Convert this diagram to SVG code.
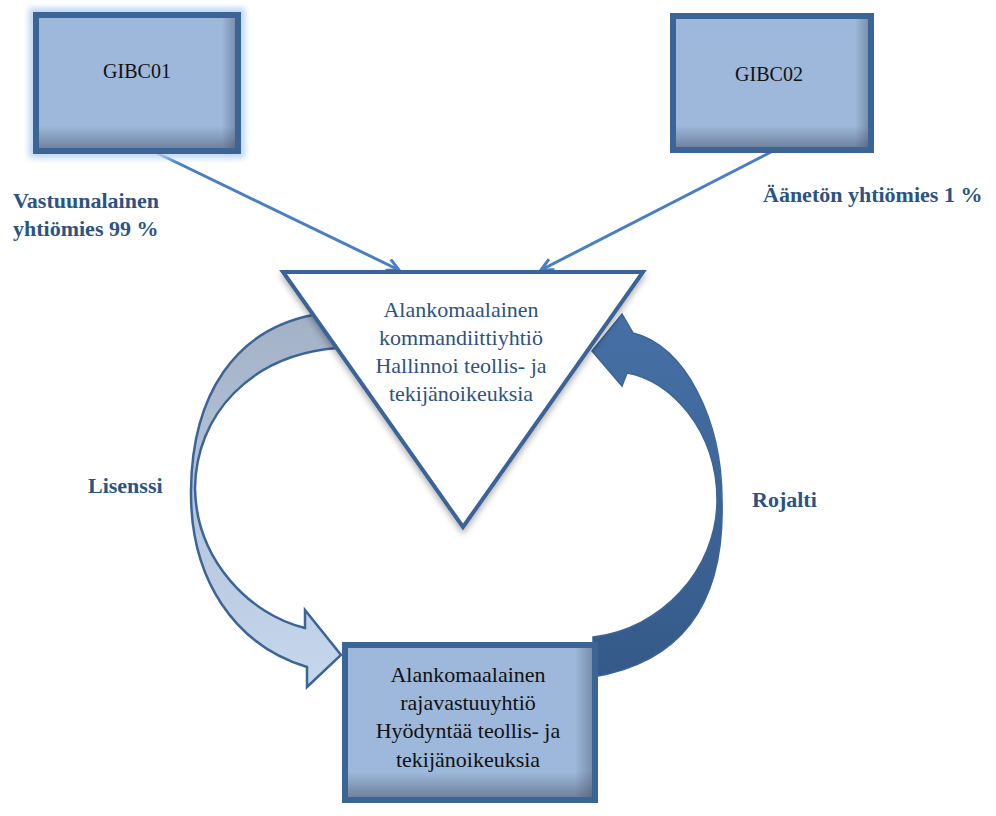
<svg xmlns="http://www.w3.org/2000/svg" width="996" height="816" viewBox="0 0 996 816">
<style>
.box{fill:#9db8da}
.border{fill:none;stroke:#3b6497;stroke-width:6}
.shB{fill:url(#shadeB)}
.shR{fill:url(#shadeR)}
.conn{fill:none;stroke:#4a7ec4;stroke-width:3}
text{font-family:"Liberation Serif","DejaVu Serif","Times New Roman",serif}
.lbl{font-weight:bold;font-size:22px;fill:#2b5384}
.tri{font-size:22px;fill:#2e5283;text-anchor:middle}
.btxt{font-size:22px;fill:#111;text-anchor:middle}
.gtxt{font-size:20px;fill:#111;text-anchor:middle}
</style>
<defs>
<linearGradient id="shadeB" x1="0" y1="0" x2="0" y2="1">
<stop offset="0" stop-color="#404a60" stop-opacity="0"/>
<stop offset="0.82" stop-color="#404a60" stop-opacity="0"/>
<stop offset="1" stop-color="#404a60" stop-opacity="0.55"/>
</linearGradient>
<linearGradient id="shadeR" x1="0" y1="0" x2="1" y2="0">
<stop offset="0" stop-color="#404a60" stop-opacity="0"/>
<stop offset="0.92" stop-color="#404a60" stop-opacity="0"/>
<stop offset="1" stop-color="#404a60" stop-opacity="0.45"/>
</linearGradient>
<linearGradient id="lisG" gradientUnits="userSpaceOnUse" x1="0" y1="315" x2="0" y2="687">
<stop offset="0" stop-color="#a3b1c5"/>
<stop offset="0.45" stop-color="#b3c3d9"/>
<stop offset="1" stop-color="#c6d8ee"/>
</linearGradient>
<linearGradient id="rojG" gradientUnits="userSpaceOnUse" x1="0" y1="314" x2="0" y2="677">
<stop offset="0" stop-color="#4670a6"/>
<stop offset="1" stop-color="#355a89"/>
</linearGradient>
<filter id="glow" x="-20%" y="-20%" width="140%" height="140%">
<feGaussianBlur stdDeviation="3"/>
</filter>
<filter id="drop" x="-10%" y="-10%" width="120%" height="130%">
<feGaussianBlur in="SourceAlpha" stdDeviation="3"/>
<feOffset dy="4" result="b"/>
<feFlood flood-color="#000" flood-opacity="0.3"/>
<feComposite in2="b" operator="in"/>
<feMerge><feMergeNode/><feMergeNode in="SourceGraphic"/></feMerge>
</filter>
<marker id="arr" markerUnits="userSpaceOnUse" markerWidth="16" markerHeight="16" refX="13" refY="7" orient="auto">
<path d="M1,1 L13,7 L1,13" fill="none" stroke="#4a7ec4" stroke-width="3"/>
</marker>
</defs>

<g id="connectors">
<line class="conn" x1="153" y1="151" x2="399" y2="270" marker-end="url(#arr)"/>
<line class="conn" x1="773" y1="151" x2="541" y2="270" marker-end="url(#arr)"/>
</g>

<g id="lisenssi-arrow">
<path d="M313,315 C235,330 192,395 191,490 C190,580 235,645 307,667 L307,687 L341,655 L305,610 L305,628 C250,615 196,560 195,488 C196,415 250,355 337,348 Z" fill="url(#lisG)" stroke="#3b6497" stroke-width="2.5" stroke-linejoin="miter"/>
</g>

<g id="rojalti-arrow">
<path d="M593,637 C660,630 717,570 717,500 C717,430 670,380 627,373 L622,386 L592,351 L622,314 L633,333 C685,345 722,420 722,500 C725,600 685,662 593,677 Z" fill="url(#rojG)" stroke="#3b6497" stroke-width="1.5"/>
</g>

<g id="gibc01">
<rect x="33" y="12" width="208" height="142" fill="none" stroke="#b9d3f5" stroke-width="8" filter="url(#glow)"/>
<rect class="box" x="36" y="15" width="202" height="136"/>
<rect class="shB" x="36" y="15" width="202" height="136"/>
<rect class="shR" x="36" y="15" width="202" height="136"/>
<rect class="border" x="36" y="15" width="202" height="136"/>
<text class="gtxt" x="137" y="78">GIBC01</text>
</g>

<g id="gibc02">
<rect class="box" x="673" y="16" width="198" height="134"/>
<rect class="shB" x="673" y="16" width="198" height="134"/>
<rect class="shR" x="673" y="16" width="198" height="134"/>
<rect class="border" x="673" y="16" width="198" height="134"/>
<text class="gtxt" x="769" y="81">GIBC02</text>
</g>

<g id="kommandiittiyhtio">
<path d="M283,272 L643,272 L463,527 Z" fill="#fff" stroke="#3b6497" stroke-width="4" stroke-linejoin="miter" filter="url(#drop)"/>
<text class="tri" x="461" y="317">Alankomaalainen</text>
<text class="tri" x="461" y="345">kommandiittiyhtiö</text>
<text class="tri" x="461" y="373">Hallinnoi teollis- ja</text>
<text class="tri" x="461" y="401">tekijänoikeuksia</text>
</g>

<g id="rajavastuuyhtio">
<rect class="box" x="345" y="645" width="250" height="155"/>
<rect class="shB" x="345" y="645" width="250" height="155"/>
<rect class="shR" x="345" y="645" width="250" height="155"/>
<rect class="border" x="345" y="645" width="250" height="155"/>
<text class="btxt" x="468" y="682">Alankomaalainen</text>
<text class="btxt" x="468" y="710">rajavastuuyhtiö</text>
<text class="btxt" x="468" y="738">Hyödyntää teollis- ja</text>
<text class="btxt" x="468" y="767">tekijänoikeuksia</text>
</g>

<g id="labels">
<text class="lbl" x="13" y="208">Vastuunalainen</text>
<text class="lbl" x="13" y="236">yhtiömies 99 %</text>
<text class="lbl" x="763" y="202">Äänetön yhtiömies 1 %</text>
<text class="lbl" x="88" y="493">Lisenssi</text>
<text class="lbl" x="752" y="507">Rojalti</text>
</g>
</svg>
